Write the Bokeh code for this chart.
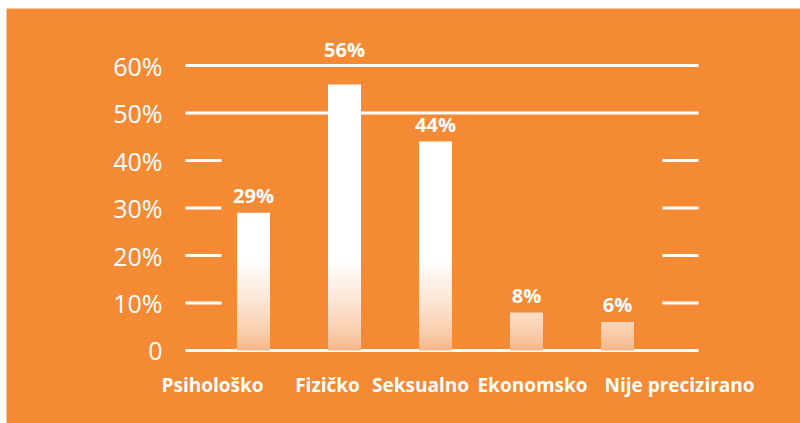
from bokeh.plotting import figure
from bokeh.models import Range1d
from bokeh.embed import file_html
from bokeh.resources import INLINE
from bokeh.core.properties import value

# ---- data ----
categories = ["Psihološko", "Fizičko", "Seksualno", "Ekonomsko", "Nije precizirano"]
values = [29, 56, 44, 8, 6]
value_labels = ["29%", "56%", "44%", "8%", "6%"]
y_ticks = [0, 10, 20, 30, 40, 50, 60]
y_tick_labels = ["0", "10%", "20%", "30%", "40%", "50%", "60%"]
full_grid = [0, 50, 60]          # grid lines drawn across the whole plot
short_grid = [10, 20, 30, 40]    # grid lines drawn only as short stubs at both sides

# ---- style / layout ----
label_shift = [-41, -17, -15, 6, 62]   # horizontal shift of category labels (px)
value_lift = [-4, -22, -4, -4, -4]     # vertical offset of value labels (px)
ORANGE = "#F58A35"
PEACH = (245, 178, 128)
FONT = "Open Sans"
W, H = 800, 423
LEFT, TOP = 6, 8            # white strip at left / top
PX = 4.75                   # pixels per percent
STEP_PX = 91                # pixels per category
FIRST_CENTER = 253          # page x of first bar centre
BASE_Y = 350                # page y of the 0 line
frame_w = W - LEFT
frame_h = H - TOP
x_start = 0.5 - (FIRST_CENTER - LEFT) / STEP_PX
x_end = x_start + frame_w / STEP_PX
y_end = (BASE_Y - TOP) / PX
y_start = y_end - frame_h / PX
FADE_TOP = 19.4             # gradient ends here (white above)


def px_x(px):
    return x_start + (px - LEFT) / STEP_PX


p = figure(width=W, height=H, output_backend="svg", toolbar_location=None,
           x_range=Range1d(x_start, x_end), y_range=Range1d(y_start, y_end),
           min_border_left=LEFT, min_border_right=0,
           min_border_top=TOP, min_border_bottom=0)
p.background_fill_color = ORANGE
p.border_fill_color = "white"
p.outline_line_color = None
p.xaxis.visible = False
p.yaxis.visible = False
p.grid.visible = False

# grid lines
GL, GR = px_x(185), px_x(698)
STUB = 36 / STEP_PX
p.segment(x0=[GL] * len(full_grid), x1=[GR] * len(full_grid), y0=full_grid, y1=full_grid,
          line_color="white", line_width=3)
p.segment(x0=[GL] * len(short_grid), x1=[GL + STUB] * len(short_grid), y0=short_grid, y1=short_grid,
          line_color="white", line_width=3)
p.segment(x0=[GR - STUB] * len(short_grid), x1=[GR] * len(short_grid), y0=short_grid, y1=short_grid,
          line_color="white", line_width=3)

# y tick labels
p.text(x=[px_x(162)] * len(y_ticks), y=y_ticks, text=y_tick_labels,
       text_align="right", text_baseline="middle", text_color="white",
       text_font=value(FONT), text_font_size="25px")

# bars with vertical gradient (built as thin slices)
centers = [i + 0.5 for i in range(len(categories))]
bw = 33 / STEP_PX
xs, bots, tops, cols = [], [], [], []
step = 0.4
for c, v in zip(centers, values):
    b = 0.0
    while b < min(v, FADE_TOP) - 1e-9:
        t_ = min(b + step, v, FADE_TOP)
        f = (((b + t_) / 2) / FADE_TOP) ** 0.65
        col = tuple(int(round(pc + (255 - pc) * f)) for pc in PEACH)
        xs.append(c); bots.append(b); tops.append(min(t_ + 0.15, v)); cols.append("#%02x%02x%02x" % col)
        b = t_
    if v > FADE_TOP:
        xs.append(c); bots.append(FADE_TOP); tops.append(v); cols.append("#ffffff")
p.vbar(x=xs, bottom=bots, top=tops, width=bw, fill_color=cols, line_color=None)

# value labels
p.text(x=centers, y=values, text=value_labels, text_align="center",
       text_baseline="bottom", y_offset=value_lift, text_color="white",
       text_font=value(FONT), text_font_style="bold", text_font_size="20px")

# category labels
p.text(x=centers, y=[0] * len(categories), text=categories, x_offset=label_shift,
       y_offset=34, text_align="center", text_baseline="middle", text_color="white",
       text_font=value(FONT), text_font_style="bold", text_font_size="19px")

open("out.html", "w").write(file_html(p, INLINE))
